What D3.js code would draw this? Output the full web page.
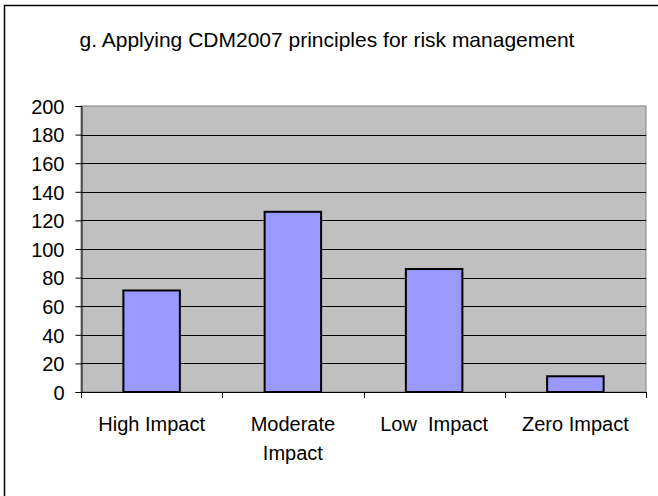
<!DOCTYPE html>
<html>
<head>
<meta charset="utf-8">
<script src="https://cdn.jsdelivr.net/npm/d3@7"></script>
<style>
  body { margin: 0; background: #fff; }
  text { font-family: Arial, "Liberation Sans", sans-serif; fill: #000; }
</style>
</head>
<body>
<svg id="chart" width="658" height="496"></svg>
<script>
var title = 'g. Applying CDM2007 principles for risk management'
var categories = ['High Impact', 'Moderate Impact', 'Low  Impact', 'Zero Impact']
var counts = [71, 126, 86, 11]
var yTicks = [0, 20, 40, 60, 80, 100, 120, 140, 160, 180, 200]

var svg = d3.select('#chart')

// outer chart frame (runs off the bottom / right of the picture)
svg.append('rect')
  .attr('x', 4.5).attr('y', 5.5)
  .attr('width', 660).attr('height', 500)
  .attr('fill', '#fff').attr('stroke', '#000').attr('stroke-width', 1.5)

svg.append('text')
  .attr('x', 327).attr('y', 47)
  .attr('text-anchor', 'middle')
  .style('font-size', '21px')
  .text(title)

var m = {left: 81, top: 106, right: 646, bottom: 392}

var x = d3.scaleBand()
  .domain(categories)
  .range([m.left, m.right])
  .paddingInner(0.6)
  .paddingOuter(0.3)

var y = d3.scaleLinear()
  .domain([0, 200])
  .range([m.bottom, m.top])

var data = categories.map(function(d, i){ return {key: d, value: counts[i]} })

// plot area
svg.append('rect')
  .attr('x', m.left).attr('y', m.top)
  .attr('width', m.right - m.left).attr('height', m.bottom - m.top)
  .attr('fill', '#c0c0c0').attr('stroke', '#808080').attr('stroke-width', 1)

// gridlines
svg.append('g').selectAll('line')
  .data(yTicks.filter(function(d){ return d > 0 && d < 200 }))
  .enter().append('line')
  .attr('x1', m.left).attr('x2', m.right)
  .attr('y1', function(d){ return Math.round(y(d)) + 0.5 })
  .attr('y2', function(d){ return Math.round(y(d)) + 0.5 })
  .attr('stroke', '#000').attr('stroke-width', 1)

// bars
svg.append('g').selectAll('rect')
  .data(data)
  .enter().append('rect')
  .attr('x', function(d){ return x(d.key) })
  .attr('y', function(d){ return y(d.value) })
  .attr('width', x.bandwidth())
  .attr('height', function(d){ return y(0) - y(d.value) })
  .attr('fill', '#9999ff')
  .attr('stroke', '#000').attr('stroke-width', 2)

// y axis
var yAxis = svg.append('g')
  .attr('transform', 'translate(' + (m.left + 0.5) + ',0)')
  .call(d3.axisLeft(y).tickValues(yTicks).tickSize(6).tickPadding(11))
yAxis.select('.domain').attr('stroke', '#000')
yAxis.selectAll('text').style('font-size', '20px').attr('dy', '0.36em')

// x axis, ticks between categories
var step = x.step()
var xTicks = d3.range(categories.length + 1).map(function(i){ return m.left + i * step })
var xAxis = svg.append('g')
xAxis.append('line')
  .attr('x1', m.left).attr('x2', m.right)
  .attr('y1', m.bottom + 0.5).attr('y2', m.bottom + 0.5)
  .attr('stroke', '#000')
xAxis.selectAll('.tk').data(xTicks).enter().append('line')
  .attr('x1', function(d){ return Math.round(d) + 0.5 })
  .attr('x2', function(d){ return Math.round(d) + 0.5 })
  .attr('y1', m.bottom).attr('y2', m.bottom + 6)
  .attr('stroke', '#000')

var labels = xAxis.selectAll('.lbl').data(categories).enter().append('text')
  .attr('x', function(d){ return x(d) + x.bandwidth() / 2 })
  .attr('y', 431)
  .attr('text-anchor', 'middle')
  .style('font-size', '20px')
  .style('white-space', 'pre')
  .text(function(d){ return d })

// wrap labels wider than a category step
labels.each(function(d){
  var sel = d3.select(this)
  if (this.getComputedTextLength() < step * 0.97) return
  var words = d.split(/\s+/)
  var cx = sel.attr('x')
  sel.text(null)
  words.forEach(function(w, i){
    sel.append('tspan').attr('x', cx).attr('dy', i ? 29 : 0).text(w)
  })
})
</script>
</body>
</html>
